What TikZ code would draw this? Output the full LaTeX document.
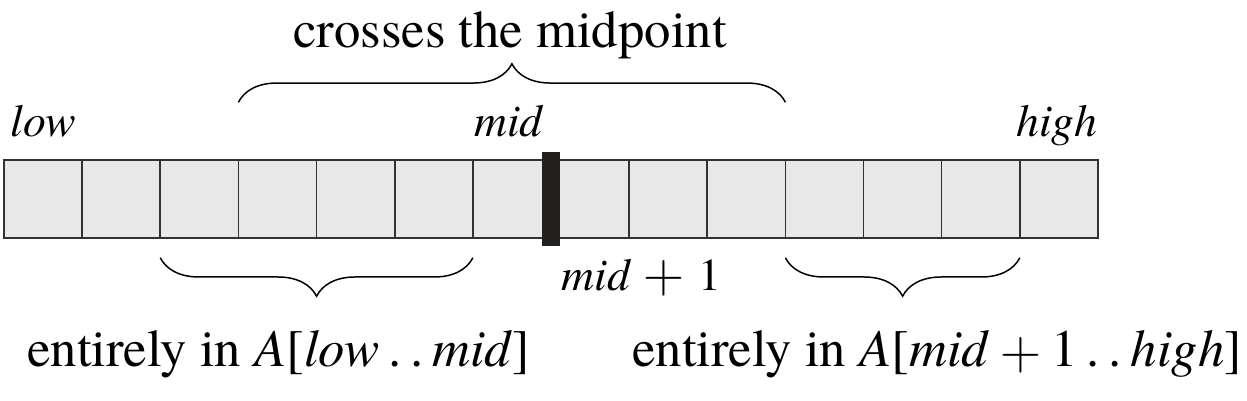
\documentclass[tikz,border=0pt]{standalone}
\usepackage{fontspec}
\setmainfont{texgyretermes}[Extension=.otf, UprightFont=*-regular, ItalicFont=*-italic, BoldFont=*-bold]
\usetikzlibrary{decorations.pathreplacing}
\definecolor{cellfill}{RGB}{231,232,231}
\definecolor{cellline}{RGB}{50,50,50}
\definecolor{barfill}{RGB}{34,32,30}
\newcommand{\bigplus}{\raisebox{-0.06em}{\scalebox{1.3}{$+$}}}
\tikzset{
  cell/.style={draw=cellline, fill=cellfill, line width=0.9pt, minimum width=1.5628cm, minimum height=1.55cm, inner sep=0pt, outer sep=0pt},
  midbar/.style={fill=barfill, minimum width=0.36cm, minimum height=1.88cm, inner sep=0pt},
  lbl/.style={inner sep=0pt, font=\fontsize{26}{30}\selectfont\itshape},
  captext/.style={inner sep=0pt, font=\fontsize{30}{36}\selectfont},
  braceup/.style={decorate, decoration={brace, amplitude=0.77cm}, line width=0.85pt},
  bracedown/.style={decorate, decoration={brace, mirror, amplitude=0.77cm}, line width=0.85pt}
}
\begin{document}
\begin{tikzpicture}[x=0.02cm, y=-0.02cm]
    \useasboundingbox (0,0) rectangle (1247,400);
    \foreach \i in {0,...,13}
    {\node[cell] (c\i) at ({4+78.14*(\i+0.5)},199) {};}
    \node[midbar] (bar) at (c6.east) {};
    \node[lbl, anchor=base west] (low) at (10,136) {low};
    \node[lbl, anchor=base east] (mid) at (543,136) {mid};
    \node[lbl, anchor=base east] (high) at (1098,136) {high};
    \node[lbl, anchor=base west] (midone) at (561,290) {mid\hspace{0.3em}\bigplus\hspace{0.3em}\upshape 1};
    \node[captext, anchor=base] (cross) at (510,47) {crosses the midpoint};
    \draw[braceup] ([yshift=1.16cm]c3.north west) -- ([yshift=1.16cm]c10.north west);
    \draw[bracedown] ([yshift=-0.4cm]c2.south west) -- ([yshift=-0.4cm]c6.south west);
    \draw[bracedown] ([yshift=-0.4cm]c10.south west) -- ([yshift=-0.4cm]c13.south west);
    \node[captext, anchor=base west] (lefthalf) at (27,366) {entirely in \textit{A}[\textit{low}\,.\,.\,\textit{mid}]};
    \node[captext, anchor=base west] (righthalf) at (632,366) {entirely in \textit{A}[\textit{mid}\hspace{0.2em}\bigplus\hspace{0.2em}1\,.\,.\,\textit{high}]};
\end{tikzpicture}
\end{document}
